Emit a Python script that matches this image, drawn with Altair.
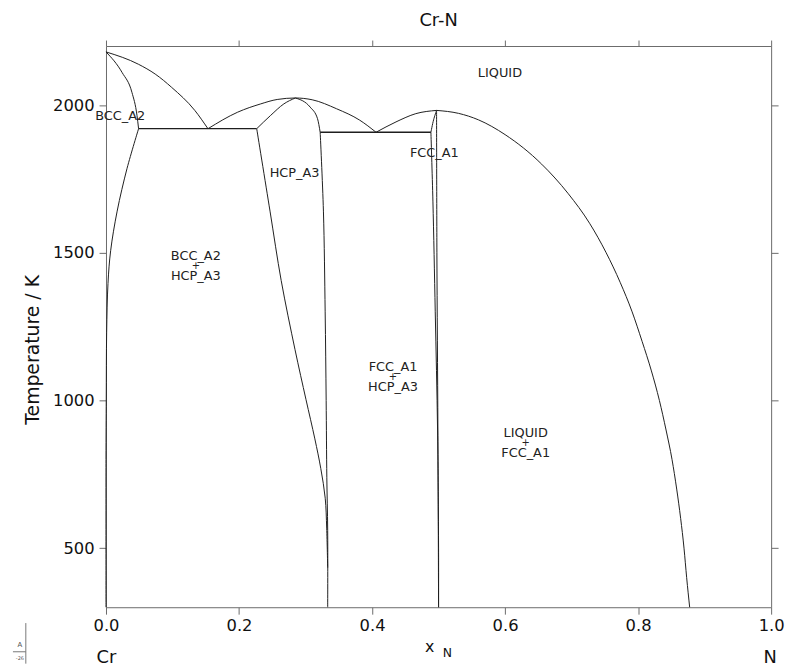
import altair as alt
import pandas as pd

# ---------------- axes
X_DOMAIN = [0.0, 1.0]
T_DOMAIN = [300, 2200]
X_TICKS = [0.0, 0.2, 0.4, 0.6, 0.8, 1.0]
T_TICKS = [500, 1000, 1500, 2000]

# ---------------- phase boundaries (x_N, T / K)
liq_cr_x = [0.0, 0.049, 0.074, 0.0987, 0.1335, 0.1533]
liq_cr_t = [2180, 2138, 2105, 2060, 1982, 1920]

bcc_sol_x = [0.0, 0.0243, 0.039, 0.0466, 0.049]
bcc_sol_t = [2180, 2110, 2043, 1965, 1920]

bcc_solv_x = [0.049, 0.0317, 0.0168, 0.007, 0.003, 0.001, 0.0004, 0.0, 0.0]
bcc_solv_t = [1920, 1786, 1641, 1507, 1396, 1229, 1005, 800, 300]

eut1_x = [0.049, 0.2266]
eut1_t = [1920, 1920]

liq_hcp_x = [0.1533, 0.198, 0.2326, 0.2574, 0.2847, 0.31, 0.3467, 0.3814, 0.406]
liq_hcp_t = [1920, 1976, 2004, 2019, 2024, 2018, 1987.5, 1949, 1908]

hcp_sol_l_x = [0.2266, 0.2475, 0.2674, 0.2847]
hcp_sol_l_t = [1920, 1965, 2004, 2024]

hcp_sol_r_x = [0.2847, 0.307, 0.318, 0.322]
hcp_sol_r_t = [2024, 1993, 1954, 1908]

eut2_x = [0.322, 0.4885]
eut2_t = [1908, 1908]

hcp_lo_l_x = [0.2266, 0.2466, 0.2634, 0.2842, 0.3006, 0.3140, 0.3229, 0.3296, 0.3318, 0.3333]
hcp_lo_l_t = [1920, 1641, 1406, 1172, 1004, 870, 770, 669, 568, 434]

hcp_lo_r_x = [0.322, 0.3269, 0.3295, 0.331, 0.332, 0.3333, 0.3333]
hcp_lo_r_t = [1908, 1641, 1300, 1000, 740, 560, 300]

liq_fcc_l_x = [0.406, 0.436, 0.4658, 0.497]
liq_fcc_l_t = [1908, 1943, 1971, 1982]

fcc_sol_x = [0.497, 0.4925, 0.4885]
fcc_sol_t = [1982, 1950, 1908]

fcc_solv_x = [0.4885, 0.4915, 0.495, 0.4985, 0.5, 0.5]
fcc_solv_t = [1908, 1675, 1300, 900, 500, 300]

fcc_r_x = [0.497, 0.4975, 0.499, 0.5]
fcc_r_t = [1982, 1500, 900, 300]

liq_fcc_r_x = [0.497, 0.53, 0.56, 0.60, 0.655, 0.695, 0.727, 0.752, 0.773, 0.791,
               0.806, 0.820, 0.832, 0.842, 0.851, 0.858, 0.864, 0.869, 0.873, 0.8775]
liq_fcc_r_t = [1982, 1972, 1950, 1900, 1800, 1700, 1600, 1500, 1400, 1300,
               1200, 1100, 1000, 900, 800, 700, 600, 500, 400, 300]

smooth_x_monotone = {
    "liq_cr": (liq_cr_x, liq_cr_t),
    "bcc_sol": (bcc_sol_x, bcc_sol_t),
    "liq_hcp": (liq_hcp_x, liq_hcp_t),
    "hcp_sol_l": (hcp_sol_l_x, hcp_sol_l_t),
    "hcp_sol_r": (hcp_sol_r_x, hcp_sol_r_t),
    "liq_fcc_l": (liq_fcc_l_x, liq_fcc_l_t),
    "liq_fcc_r": (liq_fcc_r_x, liq_fcc_r_t),
}
smooth_other = {
    "bcc_solv": (bcc_solv_x, bcc_solv_t),
    "hcp_lo_l": (hcp_lo_l_x, hcp_lo_l_t),
    "hcp_lo_r": (hcp_lo_r_x, hcp_lo_r_t),
    "fcc_sol": (fcc_sol_x, fcc_sol_t),
    "fcc_solv": (fcc_solv_x, fcc_solv_t),
    "fcc_r": (fcc_r_x, fcc_r_t),
}
straights = {
    "eut1": (eut1_x, eut1_t),
    "eut2": (eut2_x, eut2_t),
}

# ---------------- region labels
lab_text = ["LIQUID", "BCC_A2", "HCP_A3", "FCC_A1",
            "BCC_A2", "+", "HCP_A3",
            "FCC_A1", "+", "HCP_A3",
            "LIQUID", "+", "FCC_A1"]
lab_x = [0.5923, 0.0213, 0.2835, 0.4936,
         0.1351, 0.1351, 0.1351,
         0.4315, 0.4315, 0.4315,
         0.631, 0.631, 0.631]
lab_t = [2110, 1964, 1769, 1836,
         1490, 1456, 1422,
         1113, 1079, 1045,
         891, 857, 823]
lab_size = [13, 13, 13, 13,
            13, 10, 13,
            13, 10, 13,
            13, 10, 13]


def to_frame(d):
    rows = []
    for name, (xs, ts) in d.items():
        for i, (a, b) in enumerate(zip(xs, ts)):
            rows.append({"seg": name, "i": i, "x": a, "T": b})
    return pd.DataFrame(rows)


mono_df = to_frame(smooth_x_monotone)
other_df = to_frame(smooth_other)
straight_df = to_frame(straights)
label_df = pd.DataFrame({"x": lab_x, "T": lab_t, "text": lab_text, "size": lab_size})

FRAME = "#6a6a6a"
INK = "#1e1e1e"
FONT = "DejaVu Sans"

xscale = alt.Scale(domain=X_DOMAIN, nice=False, zero=False)
yscale = alt.Scale(domain=T_DOMAIN, nice=False, zero=False)

axis_common = dict(grid=False, domainColor=FRAME, tickColor=FRAME, domainWidth=1,
                   tickWidth=1, labelColor="#111", labelFont=FONT, labelFontSize=16.5,
                   title=None)

x_bottom = alt.X("x:Q", scale=xscale,
                 axis=alt.Axis(values=X_TICKS, format=".1f", tickSize=7, labelPadding=4,
                               labelFlush=False, **axis_common))
y_left = alt.Y("T:Q", scale=yscale,
               axis=alt.Axis(values=T_TICKS, format="d", tickSize=7, labelPadding=5,
                             **axis_common))
x_plain = alt.X("x:Q", scale=xscale, axis=None)
y_plain = alt.Y("T:Q", scale=yscale, axis=None)

mono_layer = alt.Chart(mono_df).mark_line(
    color=INK, strokeWidth=1, interpolate="monotone"
).encode(x=x_bottom, y=y_left, detail="seg:N", order=alt.Order("i:Q"))

other_layer = alt.Chart(other_df).mark_line(
    color=INK, strokeWidth=1, interpolate="catmull-rom"
).encode(x=x_plain, y=y_plain, detail="seg:N", order=alt.Order("i:Q"))

straight_layer = alt.Chart(straight_df).mark_line(
    color=INK, strokeWidth=1.3
).encode(x=x_plain, y=y_plain, detail="seg:N", order=alt.Order("i:Q"))

# mirrored axes (top / right), ticks only
mirror_layer = alt.Chart(mono_df).mark_point(opacity=0).encode(
    x=alt.X("x:Q", scale=xscale,
            axis=alt.Axis(orient="top", values=X_TICKS, labels=False, tickSize=6,
                          grid=False, domainColor=FRAME, tickColor=FRAME, title=None)),
    y=alt.Y("T:Q", scale=yscale,
            axis=alt.Axis(orient="right", values=T_TICKS, labels=False, tickSize=7,
                          grid=False, domainColor=FRAME, tickColor=FRAME, title=None)),
)

label_layer = alt.Chart(label_df).mark_text(
    font=FONT, color="#222", align="center", baseline="middle"
).encode(
    x=x_plain, y=y_plain,
    text="text:N",
    size=alt.Size("size:Q", scale=None, legend=None),
)

one = pd.DataFrame({"k": [0]})


def free_text(txt, px, py, size, angle=0, align="center", color="#111"):
    kw = dict(font=FONT, fontSize=size, color=color, align=align, baseline="middle")
    if angle:
        kw["angle"] = angle
    return alt.Chart(one).mark_text(text=txt, **kw).encode(
        x=alt.value(px), y=alt.value(py))


# plot area origin on page is (107, 43)
title_t = free_text("Cr-N", 336, -25, 18)
ytitle = free_text("Temperature / K", -74, 307, 19, angle=270)
xt_x = free_text("x", 327, 607, 16)
xt_n = free_text("N", 345, 613, 12.5)
cr_t = free_text("Cr", 0.5, 618, 18)
n_t = free_text("N", 671, 618, 18)

# small logo at the bottom-left corner
logo_v = alt.Chart(one).mark_rule(color="#777", strokeWidth=1).encode(
    x=alt.value(-81), y=alt.value(583), y2=alt.value(624))
logo_h = alt.Chart(one).mark_rule(color="#777", strokeWidth=1).encode(
    x=alt.value(-94), x2=alt.value(-81), y=alt.value(612))
logo_a = free_text("A", -87, 605, 7, color="#555")
logo_n = free_text("-26", -87, 618, 5, color="#555")

chart = alt.layer(
    mono_layer, mirror_layer, other_layer, straight_layer, label_layer,
    title_t, ytitle, xt_x, xt_n, cr_t, n_t,
    logo_v, logo_h, logo_a, logo_n,
).resolve_axis(x="independent", y="independent").properties(
    width=672, height=567,
    autosize=alt.AutoSizeParams(type="none"),
    padding={"left": 99, "top": 35, "right": 14, "bottom": 58},
    background="white",
).configure_view(stroke=None)

chart.save("out.html", embed_options={"renderer": "svg", "actions": False})
